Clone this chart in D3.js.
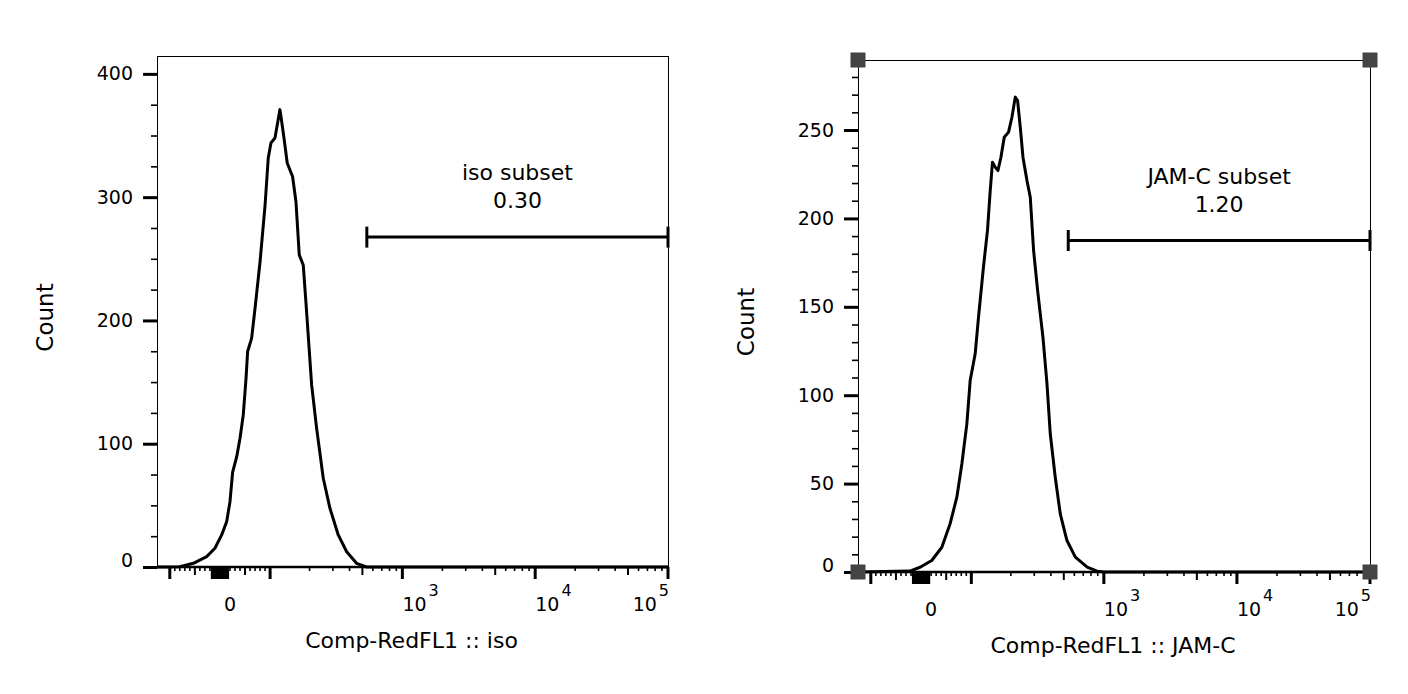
<!DOCTYPE html>
<html>
<head>
<meta charset="utf-8">
<script src="https://cdn.jsdelivr.net/npm/d3@7"></script>
<style>
  body { margin: 0; background: #fff; }
  text { font-family: "DejaVu Sans", Verdana, sans-serif; fill: #000; }
</style>
</head>
<body>
<div id="chart"></div>
<script>
// Histogram of iso (left) and JAM-C (right), x in fluorescence units, y in counts
var isoX = [-126, -110, -80, -53, -26.5, -10, 3.4, 13.4, 20, 25.3, 33.3, 40, 46.5, 52, 55.2, 63.2, 70, 80, 90, 96.3,
  101.7, 109.7, 114.3, 119.7, 123.3, 128.4, 135.8, 149, 158, 167.3, 179.3, 190, 207.4, 226, 253.7, 284.9, 329, 380.6,
  452, 537, 100000];
var isoCount = [0, 0, 0.2, 3, 8.4, 15.2, 26, 36.8, 53, 77, 89.3, 104.5, 123.4, 153, 174.8, 185.6, 210, 247.8, 293.8, 331.7,
  344, 348, 358.8, 371, 361.5, 348, 327.7, 316.8, 296.5, 253.2, 245, 207.2, 147.7, 112.6, 72, 47.6, 26, 12.4,
  3, 0, 0];

var jamX = [-126, -22, -2, 21.3, 41.3, 57.8, 71.2, 81.2, 91.1, 97.7, 107.7, 114.3, 124.5, 133.5, 140, 145.6, 152.6, 160,
  168.5, 178.4, 192.2, 203.8, 215.9, 224.7, 235.4, 246.7, 264.3, 279.9, 296.5, 317.9, 348.5, 373.8, 395.6, 431.3,
  470.4, 528, 610.7, 749.8, 889, 1000, 100000];
var jamCount = [0, 0.5, 2.7, 6.5, 14, 27.3, 42.3, 61.2, 83.8, 108.3, 123.4, 144.1, 172.4, 193.2, 215.8, 231.8, 229, 227.1,
  234.6, 245.9, 248.8, 257.2, 268.6, 266.7, 251.6, 234.6, 221.4, 212, 181.8, 159.2, 132.8, 106.4, 78.2, 53.6,
  32.9, 17.8, 8.4, 2.7, 0.5, 0, 0];

// gates: [from, to, count level]
var isoGate = [540, 100000, 267.6];
var jamGate = [540, 100000, 187.5];
var gateNames = ["iso subset", "JAM-C subset"];
var gateValues = ["0.30", "1.20"];
var xTitles = ["Comp-RedFL1 :: iso", "Comp-RedFL1 :: JAM-C"];

// axis ticks
var xMajor = [-100, 0, 100, 1000, 10000, 100000];
var xMid = [-50, 50, 500, 5000, 50000];
var xMinor = [-90, -80, -70, -60, -40, -30, -20, 20, 30, 40, 60, 70, 80, 90,
  200, 300, 400, 600, 700, 800, 900, 2000, 3000, 4000, 6000, 7000, 8000, 9000,
  20000, 30000, 40000, 60000, 70000, 80000, 90000];
var xZero = [-16, -12, -8, -4, 0, 4, 8, 12, 16];
var xLabels = [0, 1000, 10000, 100000];
var isoYMajor = [0, 100, 200, 300, 400];
var jamYMajor = [0, 50, 100, 150, 200, 250];

var X_MIN = -126, X_MAX = 100000;
var LIN = 115;

// biexponential-like display transform: linear around zero, log above
function biex(v) {
  var a = Math.abs(v);
  var t = a <= LIN ? a / (LIN * Math.LN10) : 1 / Math.LN10 + Math.log10(a / LIN);
  return v < 0 ? -t : t;
}

var svg = d3.select("#chart").append("svg")
  .attr("width", 1408)
  .attr("height", 694);

var panels = [
  { left: 157, top: 56, w: 511, h: 511, yMax: 414.5, major: isoYMajor, minorStep: 25,
    xs: isoX, ys: isoCount, gate: isoGate, handles: false },
  { left: 858, top: 60, w: 512, h: 512, yMax: 289.6, major: jamYMajor, minorStep: 10,
    xs: jamX, ys: jamCount, gate: jamGate, handles: true }
];

panels.forEach(function(p, i) {
  var g = svg.append("g").attr("transform", `translate(${p.left}, ${p.top})`);

  var x = d3.scaleLinear().domain([biex(X_MIN), biex(X_MAX)]).range([0, p.w]);
  var xPos = function(v) { return x(biex(v)); };
  var y = d3.scaleLinear().domain([0, p.yMax]).range([p.h, 0]);

  // frame
  g.append("rect")
    .attr("width", p.w)
    .attr("height", p.h)
    .attr("fill", "none")
    .attr("stroke", "#000")
    .attr("stroke-width", 1)
    .attr("shape-rendering", "crispEdges");

  // y axis, minor then major
  var minorVals = d3.range(0, p.yMax, p.minorStep).filter(v => p.major.indexOf(v) < 0);
  var yMinorAxis = g.append("g")
    .call(d3.axisLeft(y).tickValues(minorVals).tickSize(6).tickFormat(""));
  yMinorAxis.select(".domain").remove();
  yMinorAxis.selectAll("line").attr("stroke-width", 1.6);

  var yAxis = g.append("g")
    .call(d3.axisLeft(y).tickValues(p.major).tickSize(14).tickPadding(10).tickFormat(d3.format("d")));
  yAxis.select(".domain").remove();
  yAxis.selectAll("line").attr("stroke-width", 3);
  yAxis.selectAll("text")
    .attr("font-size", 19)
    .attr("font-family", "DejaVu Sans")
    .attr("fill", "#000")
    .attr("dy", d => d === 0 ? "-0.05em" : "0.32em");

  // x axis line and ticks
  g.append("line")
    .attr("x1", 0).attr("x2", p.w)
    .attr("y1", p.h).attr("y2", p.h)
    .attr("stroke", "#000")
    .attr("stroke-width", 2.4);

  var tickSets = [
    { vals: xMinor, len: 4, sw: 1.6 },
    { vals: xMid, len: 8, sw: 2 },
    { vals: xZero, len: 12, sw: 2.2 },
    { vals: xMajor, len: 12, sw: 3 }
  ];
  tickSets.forEach(function(t) {
    g.append("g").selectAll("line")
      .data(t.vals)
      .enter()
      .append("line")
      .attr("x1", d => xPos(d)).attr("x2", d => xPos(d))
      .attr("y1", p.h).attr("y2", p.h + t.len)
      .attr("stroke", "#000")
      .attr("stroke-width", t.sw);
  });

  // x tick labels (0 and powers of ten)
  var lab = g.append("g").selectAll("text")
    .data(xLabels)
    .enter()
    .append("text")
    .attr("font-size", 19)
    .attr("y", p.h + 44)
    .attr("x", d => d === 0 ? xPos(d) + 10 : (d === X_MAX ? xPos(d) + 1 : xPos(d)))
    .attr("text-anchor", d => d === 0 ? "middle" : (d === X_MAX ? "end" : "start"));
  lab.filter(d => d === 0).text("0");
  lab.filter(d => d !== 0).each(function(d) {
    var t = d3.select(this);
    t.append("tspan").text("10");
    t.append("tspan")
      .attr("font-size", 16)
      .attr("dx", 2)
      .attr("dy", -15)
      .text(Math.round(Math.log10(d)));
  });

  // histogram
  var pts = p.xs.map((v, k) => [v, p.ys[k]]);
  g.append("path")
    .datum(pts)
    .attr("fill", "none")
    .attr("stroke", "#000")
    .attr("stroke-width", 3)
    .attr("stroke-linejoin", "round")
    .attr("d", d3.line().x(d => xPos(d[0])).y(d => y(d[1])));

  // gate
  var gx1 = xPos(p.gate[0]), gx2 = xPos(p.gate[1]), gy = y(p.gate[2]);
  g.append("line")
    .attr("x1", gx1).attr("x2", gx2)
    .attr("y1", gy).attr("y2", gy)
    .attr("stroke", "#000")
    .attr("stroke-width", 3);
  [gx1, gx2].forEach(function(cx) {
    g.append("line")
      .attr("x1", cx).attr("x2", cx)
      .attr("y1", gy - 10.5).attr("y2", gy + 10.5)
      .attr("stroke", "#000")
      .attr("stroke-width", 3);
  });
  g.append("text")
    .attr("x", (gx1 + gx2) / 2)
    .attr("y", gy - 57)
    .attr("text-anchor", "middle")
    .attr("font-size", 22)
    .text(gateNames[i]);
  g.append("text")
    .attr("x", (gx1 + gx2) / 2)
    .attr("y", gy - 29)
    .attr("text-anchor", "middle")
    .attr("font-size", 22)
    .text(gateValues[i]);

  // axis titles
  g.append("text")
    .attr("transform", `translate(-104, ${p.h / 2 + 6}) rotate(-90)`)
    .attr("text-anchor", "middle")
    .attr("font-size", 23)
    .text("Count");
  g.append("text")
    .attr("x", p.w / 2 - 1)
    .attr("y", p.h + 81)
    .attr("text-anchor", "middle")
    .attr("font-size", 22)
    .text(xTitles[i]);

  // corner handles on the selected plot
  if (p.handles) {
    g.append("g").selectAll("rect")
      .data([[0, 0], [p.w, 0], [0, p.h], [p.w, p.h]])
      .enter()
      .append("rect")
      .attr("x", d => d[0] - 7.5)
      .attr("y", d => d[1] - 7.5)
      .attr("width", 15)
      .attr("height", 15)
      .attr("fill", "#444");
  }
});
</script>
</body>
</html>
